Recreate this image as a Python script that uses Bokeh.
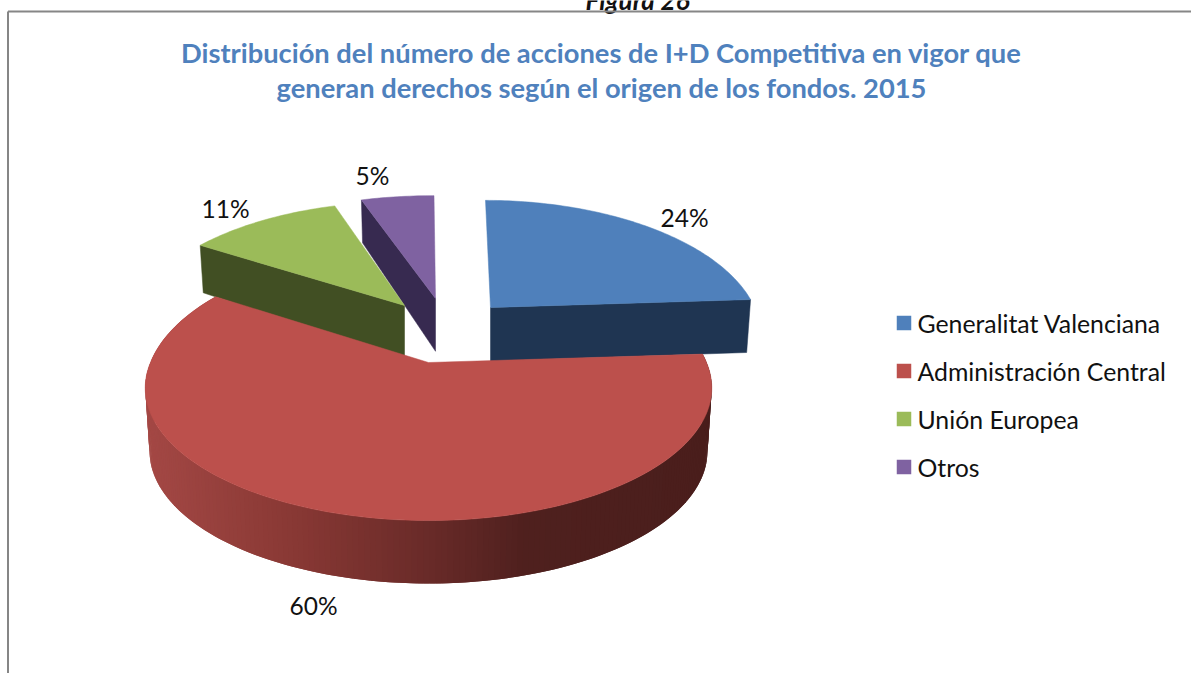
import math
from bokeh.embed import file_html
from bokeh.resources import INLINE
from bokeh.plotting import figure
from bokeh.models import Range1d
from bokeh.core.properties import value

# ---- data ----
categories = ["Generalitat Valenciana", "Administración Central", "Unión Europea", "Otros"]
shares = [24, 60, 11, 5]
top_colors = ["#4f80bb", "#bc504c", "#9bbb59", "#7f62a1"]
wall_colors = ["#1f3552", None, "#414f23", "#372a50"]
title_lines = ["Distribución del número de acciones de I+D Competitiva en vigor que",
               "generan derechos según el origen de los fondos. 2015"]
caption = "Figura 26"

# ---- layout (page pixels) ----
apex = [(490, 307), (428, 362), (404, 305), (435, 298)]
scale_x = [0.95, 1.0, 0.96, 1.0]
scale_y = [1.0, 1.06, 0.97, 0.96]
lean = [5.0, 0.0, 0.0, 1.5]
label_pos = [(684, 217), (313, 605), (225, 208), (372, 175)]
R, RK, PERSP = 278.0, 127.7, 0.192
red_wall_stops = [(145, (164, 72, 69)), (300, (136, 56, 52)), (430, (106, 43, 41)),
                  (530, (79, 32, 30)), (712, (74, 30, 28))]

p = figure(width=1191, height=673, x_range=Range1d(0, 1191), y_range=Range1d(673, 0),
           toolbar_location=None, output_backend="svg", min_border=0,
           outline_line_color=None, background_fill_color="white", border_fill_color="white")
p.axis.visible = False
p.grid.visible = False


def rel(theta_deg):
    t = math.radians(theta_deg)
    u, v = math.sin(t), math.cos(t)
    s = 1 / (1 + PERSP * v)
    return R * u * s, -RK * v * s


def top_pt(i, theta):
    dx, dy = rel(theta)
    # the front half of the big slice keeps its height; only its far side is stretched
    sy = scale_y[i] if dy < 0 else min(scale_y[i], 1.0)
    return apex[i][0] + dx * scale_x[i] + lean[i] * dy / 107, apex[i][1] + dy * sy


def depth(y):
    return min(63.0, 43 + 0.1 * (y - 200))


def bottom_pt(i, pt):
    x, y = pt
    return apex[i][0] + (x - apex[i][0]) * 0.985, y + depth(y)


def red_wall_color(x):
    for (x0, c0), (x1, c1) in zip(red_wall_stops, red_wall_stops[1:]):
        if x <= x1:
            f = max(0.0, (x - x0) / (x1 - x0))
            return "#%02x%02x%02x" % tuple(round(a + (b - a) * f) for a, b in zip(c0, c1))
    return "#%02x%02x%02x" % red_wall_stops[-1][1]


total = sum(shares)
starts, ends, cum = [], [], 0
for s in shares:
    starts.append(360 * cum / total)
    cum += s
    ends.append(360 * cum / total)

# radial walls and top faces; back slices first, the big front slice last
for i in [3, 2, 0, 1]:
    n = max(8, int(ends[i] - starts[i]))
    arc = [top_pt(i, starts[i] + (ends[i] - starts[i]) * k / n) for k in range(n + 1)]
    if wall_colors[i] is not None:
        # blue shows the radial face at its end angle, green and purple at their start angle
        e = arc[-1] if i == 0 else arc[0]
        a = apex[i]
        q = [a, e, bottom_pt(i, e), bottom_pt(i, a)]
        p.patch([c[0] for c in q], [c[1] for c in q], fill_color=wall_colors[i],
                line_color=wall_colors[i], line_width=0.5)
    else:
        # the curved wall: bands painted so that each overlaps the next, which hides the seams
        xs, ys, cols = [], [], []
        for k in range(len(arc) - 2, -1, -1):
            a, b = arc[k], arc[min(k + 2, len(arc) - 1)]
            ba, bb = bottom_pt(i, a), bottom_pt(i, b)
            xs.append([a[0], b[0], bb[0], ba[0]])
            ys.append([a[1], b[1], bb[1], ba[1]])
            cols.append(red_wall_color((a[0] + arc[k + 1][0]) / 2))
        p.patches(xs, ys, fill_color=cols, line_color=None)
    poly = [apex[i]] + arc
    p.patch([c[0] for c in poly], [c[1] for c in poly], fill_color=top_colors[i],
            line_color=top_colors[i], line_width=0.5)

# percent labels
font = value("Lato")
p.text([c[0] for c in label_pos], [c[1] for c in label_pos],
       text=[f"{s}%" for s in shares], text_font=font, text_font_size="24.5px",
       text_color="#111111", text_align="center", text_baseline="middle")

# caption above the chart, cut by the top of the page as in the reference
p.text([585], [-1], text=[caption], text_font=font, text_font_style="bold italic",
       text_font_size="26px", text_color="#111111", text_align="left", text_baseline="alphabetic")

# title
p.text([601, 601], [52, 87], text=title_lines, text_font=font, text_font_style="bold",
       text_font_size="27.3px", text_color="#4f81bd", text_align="center", text_baseline="middle")

# legend
rows = [322.5, 370.5, 418.5, 466.5]
p.scatter([903.5] * 4, rows, marker="square", size=14.5, fill_color=top_colors, line_color=None)
p.text([917] * 4, rows, text=categories, text_font=font, text_font_size="24.8px",
       text_color="#111111", text_align="left", text_baseline="middle")

# frame of the chart
p.line([7.5, 7.5], [673, 11], line_color="#868686", line_width=2)
p.line([7.5, 1191], [11, 11], line_color="#868686", line_width=2)

open("out.html", "w").write(file_html(p, INLINE))
